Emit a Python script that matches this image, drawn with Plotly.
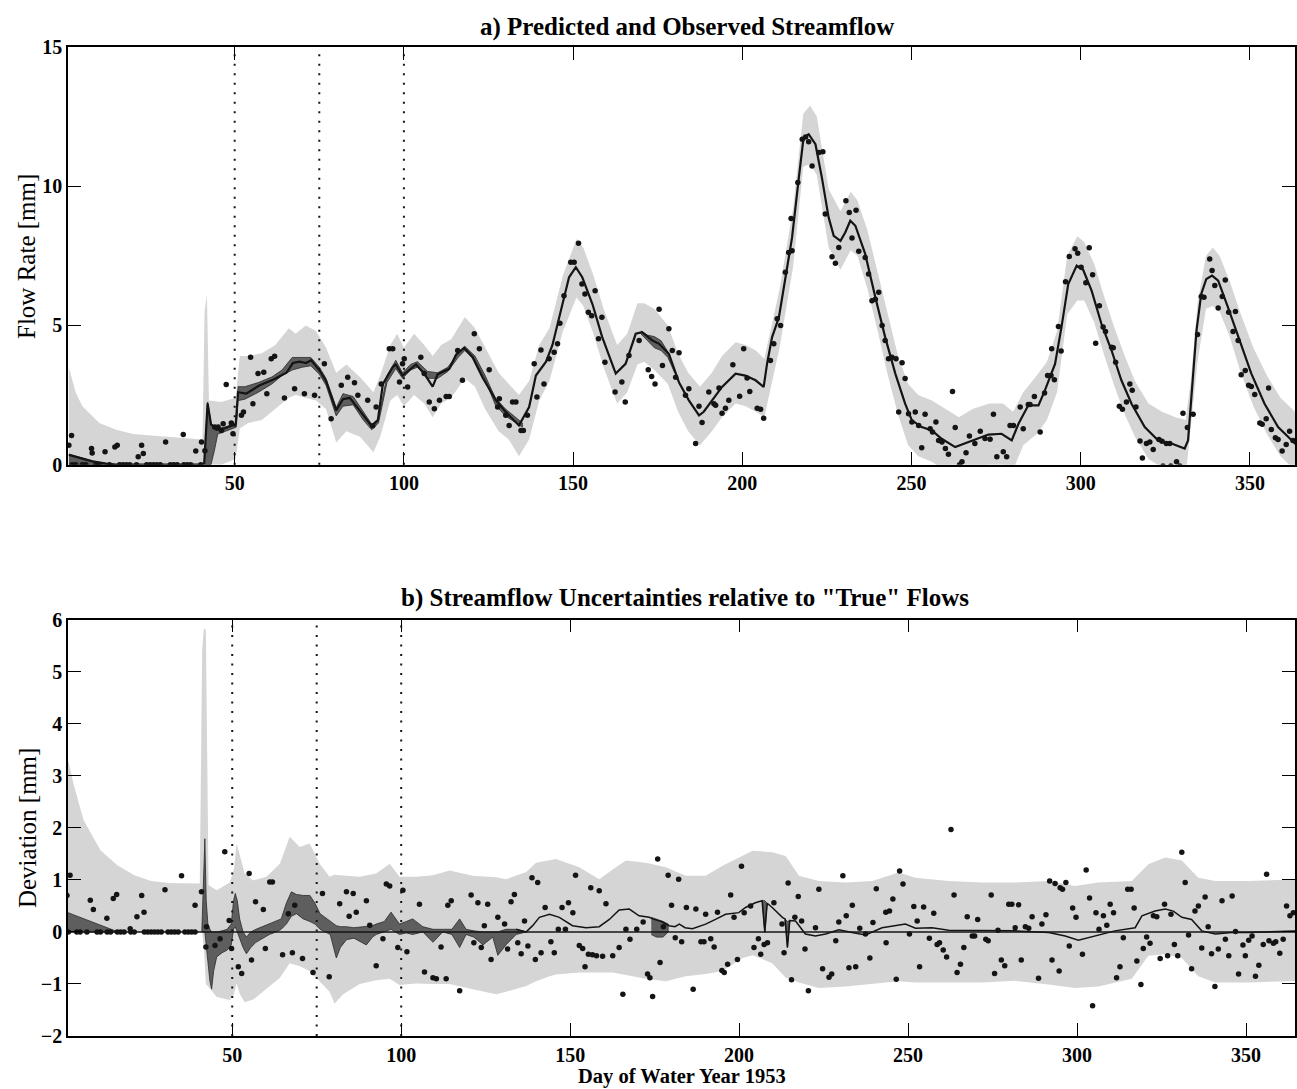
import plotly.graph_objects as go

# ---------------- Panel a: predicted & observed streamflow ----------------
# predicted flow line (day, mm)
pred_a = [(1, 0.35), (4, 0.25), (8, 0.12), (12, 0.04), (15, 0.0), (20, 0.0), (30, 0.0), (40, 0.0),
          (41, 0.05), (42, 2.2), (43, 1.45), (44.6, 1.25), (47, 1.3), (49.5, 1.4), (50.3, 1.45),
          (51, 2.6), (53.4, 2.55), (57.4, 2.85), (61.3, 3.05), (65.3, 3.3), (67.2, 3.65), (69.2, 3.7),
          (71.1, 3.65), (72.6, 3.75), (75.1, 3.38), (77, 3.0), (80, 1.95), (82, 2.35), (84, 2.4),
          (86.9, 1.95), (90.5, 1.38), (92.3, 1.6), (93.8, 2.9), (96.7, 3.5), (97.6, 3.6), (99.6, 3.2),
          (103.6, 3.6), (106, 3.27), (108.5, 2.8), (110, 3.25), (113.4, 3.44), (115.4, 3.95),
          (117.8, 4.2), (120.3, 3.86), (123.2, 3.14), (127.2, 2.31), (130.1, 1.89), (134, 1.41),
          (137, 2.07), (139, 3.2), (142, 3.7), (143.9, 4.3), (146.8, 5.77), (148.8, 6.73),
          (150.8, 7.09), (152.7, 6.73), (155.7, 5.77), (158.6, 4.58), (162.6, 3.27), (165.5, 3.62),
          (168.5, 4.7), (170.4, 4.76), (173.4, 4.46), (175.4, 4.34), (178.3, 3.98), (181.3, 2.95),
          (184.2, 2.31), (187.2, 1.77), (188.6, 1.9), (191.1, 2.31), (194, 2.79), (198, 3.27),
          (200.9, 3.2), (203.9, 3.03), (206.3, 2.79), (207.3, 3.62), (208.8, 4.58), (210.8, 5.29),
          (212.7, 6.73), (214.7, 8.16), (216.7, 10.31), (218.1, 11.75), (219.6, 11.87), (221.6, 11.51),
          (223.5, 10.31), (225.5, 8.88), (227, 8.22), (229, 8.04), (230.4, 8.34), (231.9, 8.76),
          (233.4, 8.58), (236.3, 7.57), (239.3, 6.01), (242.2, 4.58), (245.2, 3.27), (248.1, 2.19),
          (250.1, 1.59), (253, 1.35), (256, 1.23), (258.9, 0.93), (262.9, 0.63), (265.8, 0.76),
          (269.8, 0.93), (272.7, 1.08), (276.6, 1.11), (279.6, 0.87), (281.6, 1.47), (284.5, 2.13),
          (287.5, 2.13), (289.4, 2.67), (292.4, 3.62), (294.3, 4.94), (296.3, 6.49), (298.8, 7.15),
          (300.7, 7.0), (303.2, 6.25), (306.1, 5.06), (309.1, 4.1), (312, 3.03), (315, 2.19),
          (318.9, 1.35), (322.9, 0.87), (326.8, 0.76), (330.7, 0.58), (331.7, 0.87), (332.7, 2.55),
          (334.2, 4.82), (335.6, 6.13), (337.1, 6.67), (338.8, 6.79), (340.6, 6.61), (343.5, 5.65),
          (346.5, 4.58), (350.4, 3.27), (354.3, 2.19), (358.3, 1.35), (363.3, 0.76), (365, 0.6)]

# light uncertainty band (day, upper, lower)
band_a = [(1, 3.5, 0), (3, 2.6, 0), (5, 2.1, 0), (10, 1.5, 0), (15, 1.25, 0), (20, 1.1, 0),
          (30, 1.0, 0), (40.5, 0.9, 0), (41.1, 5.5, 0), (41.8, 6.1, 0), (42.4, 2.3, 0), (46, 2.25, 0),
          (50.3, 2.4, 0.2), (51.5, 3.9, 1.3), (54, 3.9, 1.5), (58, 4.0, 1.6), (62, 4.3, 2.0),
          (66, 4.9, 2.4), (68, 4.7, 2.5), (71, 5.0, 2.4), (74, 4.8, 2.3), (77, 4.2, 2.0), (80, 3.3, 0.8),
          (83, 3.6, 1.2), (87, 3.15, 1.0), (91, 2.6, 0.45), (93, 3.2, 1.0), (96, 4.3, 2.3),
          (98, 4.7, 2.5), (100, 4.2, 2.1), (103, 4.7, 2.5), (106, 4.3, 2.2), (108.5, 3.9, 1.7),
          (111, 4.3, 2.2), (114, 4.5, 2.4), (118, 5.3, 3.1), (121, 4.9, 2.8), (124, 4.2, 2.0),
          (128, 3.3, 1.2), (131, 2.9, 0.9), (134, 2.5, 0.3), (137, 3.0, 0.9), (140, 4.3, 2.3),
          (143, 4.9, 3.0), (147, 6.8, 4.8), (151, 8.1, 6.0), (153, 7.8, 5.7), (156, 6.8, 4.7),
          (159, 5.6, 3.5), (163, 4.3, 2.2), (166, 4.7, 2.6), (169, 5.8, 3.6), (171, 5.8, 3.7),
          (174, 5.6, 3.4), (178, 5.0, 2.9), (181, 4.0, 1.9), (184, 3.3, 1.2), (187.5, 2.8, 0.7),
          (191, 3.3, 1.2), (194, 3.9, 1.7), (198, 4.4, 2.2), (201, 4.3, 2.1), (204, 4.1, 1.9),
          (206.5, 3.8, 1.7), (208, 4.6, 2.5), (211, 6.3, 4.2), (215, 9.2, 7.1), (218, 12.6, 10.7),
          (220, 12.9, 10.8), (222, 12.5, 10.4), (225.5, 9.9, 7.8), (229, 9.1, 7.0), (232, 9.8, 7.7),
          (234, 9.5, 7.5), (237, 8.4, 6.3), (240, 6.9, 4.8), (243, 5.3, 3.2), (246, 3.9, 1.8),
          (249, 2.9, 0.7), (252, 2.5, 0.3), (256, 2.3, 0.1), (260, 2.0, -0.2), (264, 1.7, -0.4),
          (268, 2.0, -0.2), (273, 2.2, 0.0), (277, 2.2, 0.0), (280, 1.9, -0.2), (283, 2.6, 0.7),
          (287, 3.2, 1.1), (290, 3.7, 1.6), (293, 4.8, 2.6), (296, 7.5, 5.4), (299, 8.2, 5.9),
          (301, 8.0, 5.9), (304, 7.2, 5.1), (307, 6.0, 3.9), (310, 4.9, 2.8), (313, 3.9, 1.8),
          (316, 3.0, 1.0), (320, 2.2, 0.2), (324, 1.9, -0.1), (328, 1.7, -0.3), (331, 1.6, -0.4),
          (332.5, 3.0, 1.2), (334.5, 5.8, 3.7), (337, 7.5, 5.6), (339, 7.8, 5.7), (341, 7.5, 5.5),
          (344, 6.6, 4.6), (347, 5.5, 3.4), (351, 4.2, 2.1), (355, 3.2, 1.1), (359, 2.4, 0.3),
          (365, 1.7, -0.4)]

# dark band segments (day, upper, lower)
dark_a1 = [(1, 0.38, 0), (4, 0.27, 0), (8, 0.13, 0), (12, 0.04, 0), (15, 0.0, 0)]
dark_a2 = [(41, 0.05, 0.0), (42, 2.25, 0.0), (43, 1.5, 0.0), (44, 1.35, 0.5), (45, 1.3, 1.1),
           (47, 1.35, 1.2), (49.5, 1.45, 1.3), (50.5, 1.5, 1.35), (51, 2.8, 2.3), (53, 2.8, 2.35),
           (57, 2.95, 2.6), (61, 3.15, 2.9), (64, 3.4, 3.2), (67, 3.85, 3.4), (70, 3.85, 3.5),
           (72.5, 3.85, 3.55), (75, 3.5, 3.25), (77, 3.1, 2.85), (80, 2.05, 1.75), (82, 2.55, 2.1),
           (85, 2.45, 2.15), (88, 1.9, 1.6), (90.5, 1.45, 1.25), (92.5, 1.65, 1.5), (95, 3.2, 2.95),
           (97.6, 3.75, 3.45), (99.6, 3.3, 3.1), (102, 3.6, 3.4), (104, 3.7, 3.5), (107, 3.35, 3.1),
           (110, 3.3, 3.1), (113, 3.5, 3.35), (116, 4.0, 3.85), (118, 4.25, 4.1), (121, 3.9, 3.75),
           (124, 3.2, 3.05), (127, 2.4, 2.15), (130, 2.0, 1.75), (133, 1.7, 1.5), (135, 1.5, 1.35)]
dark_a3 = [(170, 4.8, 4.7), (172, 4.65, 4.45), (174, 4.6, 4.2), (176, 4.45, 4.1), (178, 4.05, 3.85),
           (180, 3.4, 3.3)]

# observed flows (day, mm)
obs_a = [(2, 0), (3, 0), (5, 0), (6, 0), (9, 0), (10, 0), (13, 0), (16, 0), (17, 0), (18, 0), (19, 0),
         (21, 0), (24, 0), (25, 0), (26, 0), (27, 0), (28, 0), (31, 0), (32, 0), (33, 0), (35, 0),
         (36, 0), (37, 0), (40, 0),
         (1, 0.7), (1.8, 1.05), (7.7, 0.58), (7.9, 0.42), (11.7, 0.46), (14.6, 0.63), (15.3, 0.7),
         (21.5, 0.28), (22.5, 0.7), (23, 0.4), (29.6, 0.81), (34.8, 1.08), (38.5, 0.49), (40.2, 0.81),
         (41.2, 0.5), (44.1, 1.35), (45.1, 1.35), (46.1, 1.23), (46.6, 1.47), (47.5, 2.88), (49, 1.5),
         (49.5, 1.11), (52, 1.77), (52.6, 1.89), (54.7, 3.86), (55.4, 2.19), (56.9, 3.27), (58.6, 3.32),
         (59.5, 2.55), (60.8, 3.8), (61.8, 3.89), (64.7, 2.39), (67.7, 2.73), (70.6, 2.55), (73.6, 2.49),
         (76.5, 3.62), (78.5, 1.65), (81.5, 2.85), (83.4, 3.14), (85.4, 2.94), (86.4, 2.49), (89.3, 2.31),
         (90.8, 1.4), (91.8, 2.07), (93.3, 2.9), (95.7, 4.16), (96.7, 4.16), (98.7, 2.97), (99.6, 3.62),
         (100.1, 3.8), (101.1, 2.79), (105, 3.86), (106, 3.27), (107.5, 2.25), (109, 2.01), (110.5, 2.31),
         (112.5, 2.45), (113.4, 2.45), (115.9, 4.1), (117.3, 3.03), (120.8, 4.7), (122.3, 4.16),
         (125.2, 3.41), (127.7, 2.07), (128.2, 2.37), (130.1, 1.77), (131.1, 1.41), (132.1, 2.25),
         (133.1, 2.25), (134.6, 1.23), (135.3, 1.23), (136.5, 1.77), (138.5, 3.62), (139.3, 2.43),
         (140.5, 4.12), (141.4, 2.9), (142.9, 3.8), (144.4, 4.04), (145.4, 4.34), (146.1, 5.08),
         (147.3, 6.07), (149.3, 7.27), (150.3, 7.27), (151.6, 7.95), (152.6, 6.49), (153.5, 6.13),
         (154.5, 5.47), (155.5, 5.35), (156.5, 6.25), (157.5, 4.52), (158.5, 5.29), (159.4, 3.68),
         (162.4, 2.61), (164.4, 2.97), (165.4, 2.25), (166.5, 3.92), (169.5, 4.46), (172.2, 3.41),
         (173.2, 3.17), (174.2, 2.9), (175.4, 5.58), (176.4, 3.56), (178.3, 4.88), (179.3, 4.1),
         (180.3, 3.14), (181.3, 4.02), (183.2, 2.49), (184.2, 2.73), (186.2, 0.76), (187.2, 2.1),
         (188.1, 1.51), (190.1, 2.61), (191.6, 2.19), (192.1, 2.13), (193.1, 2.75), (194, 1.85),
         (195, 2.03), (196, 2.31), (197.2, 3.59), (199.2, 2.46), (200.4, 4.16), (201.4, 3.11),
         (202.2, 2.63), (204.4, 2.03), (205.4, 1.99), (206.3, 1.67), (208.3, 3.74), (209.3, 4.34),
         (210.3, 5.24), (211.3, 5.0), (212.7, 6.91), (213.7, 7.62), (214.4, 8.84), (214.7, 7.68),
         (216.4, 10.13), (217.7, 11.69), (218.7, 11.77), (219.6, 11.6), (220.6, 10.73), (222.6, 11.21),
         (223.8, 11.24), (224.5, 9.0), (226.5, 7.47), (227.5, 7.23), (228.5, 7.8), (230.6, 9.48),
         (231.6, 9.06), (232.4, 8.14), (233.6, 9.14), (234.4, 7.66), (236.3, 7.44), (237.3, 6.85),
         (238.3, 5.89), (239.3, 5.94), (240.3, 6.19), (241.3, 5.0), (242.2, 4.46), (243.2, 3.8),
         (244.2, 3.86), (245.4, 3.8), (246.2, 1.89), (247.2, 3.66), (248.1, 3.09), (249.1, 1.83),
         (250.1, 1.53), (251.1, 1.89), (252.1, 1.41), (253, 0.61), (254, 1.81), (255.5, 1.29),
         (256.2, 1.17), (257.2, 1.53), (258, 0.87), (259, 0.81), (260, 0.58), (260.9, 0.37),
         (262.1, 2.63), (262.9, 1.33), (264.2, 0.0), (264.9, 0.1), (266.1, 0.43), (267.1, 1.03),
         (268.7, 0.76), (270.3, 1.2), (271.7, 0.94), (273.2, 0.91), (274.2, 1.81), (275.2, 0.28),
         (277.1, 0.46), (278.1, 0.28), (279.1, 1.41), (280.1, 1.41), (282.1, 2.07), (283, 1.29),
         (284.5, 2.16), (285, 2.16), (286.3, 2.45), (288, 1.17), (289.3, 2.57), (290.2, 3.2),
         (291.2, 3.2), (291.4, 4.16), (292.2, 3.05), (293.4, 4.96), (294.2, 4.08), (295.5, 6.57),
         (296.6, 7.48), (298.3, 7.75), (299.1, 7.59), (300.1, 7.09), (301.5, 6.53), (302.5, 7.79),
         (303.5, 6.82), (304.4, 4.36), (305.5, 5.71), (306.6, 4.94), (307.3, 4.78), (309.1, 4.22),
         (309.6, 4.2), (310.3, 3.68), (311.4, 2.1), (312.3, 1.99), (313.5, 2.25), (314.5, 2.9),
         (315.2, 2.67), (316.3, 2.07), (317.5, 0.85), (318.2, 0.24), (319.4, 0.76), (320.4, 0.81),
         (321.4, 0.54), (323.1, 0.9), (324, 0.84), (324.3, -0.05), (325.3, 0.76), (326.3, 0.76),
         (326.6, -0.05), (328.3, 0.1), (329.3, -0.05), (330.2, 1.85), (331.5, 1.33), (333.2, 1.81),
         (334.5, 4.67), (335.6, 6.04), (336.4, 6.01), (338.1, 7.39), (338.8, 6.97), (339.6, 6.43),
         (340.6, 5.63), (341.8, 6.04), (342.7, 6.63), (343.7, 5.47), (345, 4.78), (345.7, 5.5),
         (346.5, 4.46), (347.4, 3.23), (348.6, 3.38), (349.6, 2.85), (350.4, 2.81), (351.4, 2.52),
         (352.9, 1.5), (353.6, 1.45), (354.8, 1.65), (355.5, 2.75), (356.3, 1.26), (357.5, 0.97),
         (358.3, 0.9), (359.5, 0.49), (360.7, 0.72), (361.7, 1.2), (362.7, 0.87)]

# ---------------- Panel b: deviations relative to "true" flows ----------------
band_b = [(1, 3.43, 0), (3, 2.85, 0), (6, 2.15, 0), (11, 1.57, 0), (16, 1.28, 0), (21, 1.09, 0),
          (26, 0.98, 0), (31, 0.94, 0), (40.4, 0.93, 0), (41.1, 5.4, 0), (41.6, 5.83, -0.3),
          (42.2, 5.8, -1.0), (43.0, 0.9, -1.06), (45.4, 0.8, -1.25), (49.3, 0.95, -1.31),
          (50.5, 1.2, -1.2), (51.3, 1.7, -0.99), (52.3, 1.44, -1.2), (53.7, 1.12, -1.35),
          (56.2, 0.99, -1.3), (60.1, 1.06, -1.1), (64.1, 1.31, -0.88), (67, 1.83, -0.6),
          (70, 1.63, -0.66), (72.9, 1.7, -0.75), (75.9, 1.31, -0.95), (78.8, 1.06, -1.15),
          (80.3, 1.1, -1.38), (82.8, 1.09, -1.2), (87.7, 1.06, -1.0), (92.6, 1.12, -0.93),
          (96.6, 1.31, -0.9), (99.5, 1.06, -1.02), (104.4, 1.06, -0.99), (109.4, 1.09, -1.0),
          (114.3, 1.18, -1.0), (121.2, 1.08, -1.1), (128.1, 1.05, -1.2), (131, 1.01, -1.15),
          (137, 1.15, -1.04), (139.9, 1.33, -0.95), (143.9, 1.38, -0.85), (145.8, 1.4, -0.82),
          (152.7, 1.24, -0.78), (158.6, 1.01, -0.78), (162.6, 1.2, -0.78), (166.5, 1.37, -0.83),
          (172.4, 1.33, -0.9), (178.3, 1.24, -0.95), (184.2, 1.08, -0.85), (190.1, 1.08, -0.81),
          (195.1, 1.27, -0.75), (201, 1.46, -0.5), (204, 1.56, -0.45), (209.8, 1.53, -0.6),
          (213.8, 1.46, -0.88), (217.7, 1.08, -0.97), (223.6, 0.98, -1.08), (231.5, 0.95, -1.05),
          (239.4, 0.98, -1.0), (247.2, 1.14, -0.95), (252.2, 1.04, -0.97), (262, 0.98, -0.97),
          (271.9, 0.95, -0.97), (281.7, 0.95, -0.94), (291.6, 0.98, -1.01), (299.4, 0.88, -1.08),
          (306.3, 0.95, -1.05), (316.2, 0.98, -0.9), (321.1, 1.3, -0.46), (326.1, 1.43, -0.43),
          (331, 1.37, -0.5), (335.9, 1.04, -0.85), (340.9, 0.98, -0.97), (350.7, 0.98, -0.97),
          (365, 1.01, -0.94)]

dark_b1 = [(1, 0.38, 0), (6, 0.26, 0), (11, 0.13, 0), (15, 0.03, 0), (18, 0.0, 0)]
dark_b2 = [(41, 0.0, 0.0), (41.6, 1.0, 0.0), (41.9, 1.79, 0.0), (42.3, 0.6, -0.3), (42.8, 0.15, -0.6),
           (43.4, 0.05, -0.95), (43.9, 0.0, -1.1), (44.5, 0.0, -0.75), (45.4, 0.0, -0.48),
           (47, 0.02, -0.4), (48.5, 0.05, -0.35), (49.7, 0.15, -0.25), (50.4, 0.6, 0.05),
           (50.9, 0.74, 0.1), (51.5, 0.6, 0.0), (52.2, 0.25, -0.1), (53.2, 0.0, -0.3),
           (54.2, -0.1, -0.42), (55.5, 0.0, -0.3), (57, 0.05, -0.2), (59, 0.1, -0.12), (61, 0.15, -0.05),
           (63, 0.2, 0.0), (64.5, 0.25, 0.05), (66, 0.55, 0.15), (67.5, 0.77, 0.3), (69, 0.72, 0.35),
           (71, 0.7, 0.25), (73, 0.7, 0.2), (74.5, 0.55, 0.15), (76, 0.35, 0.05), (77.5, 0.28, 0.0),
           (79, 0.2, -0.05), (80.8, 0.12, -0.5), (82, 0.1, -0.3), (83.8, 0.1, -0.15), (86, 0.08, -0.12),
           (89.7, 0.1, -0.25), (91.5, 0.12, -0.1), (92.6, 0.15, -0.05), (95, 0.2, 0.0), (97, 0.38, 0.05),
           (99.5, 0.15, -0.05), (101.5, 0.2, -0.02), (103.4, 0.25, -0.05), (106.4, 0.1, 0.0),
           (109.4, 0.05, -0.2), (112.3, 0.05, 0.0), (115, 0.05, -0.05), (117.3, 0.25, -0.3),
           (119.2, 0.05, -0.05), (121.5, 0.02, -0.1), (124.2, 0.0, -0.25), (127.1, 0.0, -0.1),
           (128.6, 0.0, -0.45), (131, 0.05, -0.25), (134, 0.05, -0.05), (137, 0.0, 0.0)]
dark_b3 = [(174, 0.28, -0.05), (175.5, 0.25, -0.1), (177.5, 0.2, -0.1), (179, 0.15, 0.0)]
dark_b4 = [(206.9, 0.6, 0.6), (207.6, 0.6, -0.02), (208.3, 0.55, 0.55)]
dark_b5 = [(213.6, 0.25, 0.25), (214.3, 0.2, -0.3), (215.0, 0.22, 0.22)]

dev_b = [(134, 0.05), (137, 0.0), (138.9, 0.12), (140.9, 0.28), (143.9, 0.34), (146.8, 0.28),
         (150.7, 0.12), (154.7, 0.08), (158.6, 0.1), (161.6, 0.24), (164.5, 0.42), (167.5, 0.44),
         (170.4, 0.31), (173.4, 0.28), (174.4, 0.25), (177, 0.2), (179.3, 0.12), (181, 0.1),
         (182.3, 0.15), (184, 0.08), (186.2, 0.06), (190.1, 0.15), (193, 0.24), (196, 0.34),
         (199.9, 0.37), (201.9, 0.47), (204.8, 0.56), (206.8, 0.6), (207.6, 0.0), (208.3, 0.55),
         (209.8, 0.47), (212.8, 0.28), (213.6, 0.25), (214.3, -0.3), (215.0, 0.22), (216.7, 0.21),
         (219.6, -0.04), (222.6, -0.08), (225.6, -0.04), (229.5, 0.04), (233.4, -0.01), (237.4, -0.06),
         (242.3, 0.08), (249.2, 0.15), (252.2, 0.07), (257.1, 0.08), (262, 0.03), (271.9, 0.02),
         (281.7, 0.02), (291.6, -0.01), (296.5, -0.08), (300.4, -0.16), (305.3, -0.08), (311.2, 0.02),
         (317.2, 0.08), (319.2, 0.31), (323.1, 0.4), (326.1, 0.44), (328.5, 0.4), (331, 0.28),
         (333.9, 0.24), (336.9, 0.02), (340.9, -0.04), (345.8, -0.01), (350.7, -0.01), (365, 0.02)]

obs_b = [(1.5, 0), (4, 0), (5, 0), (7, 0), (10, 0), (11, 0), (13, 0), (14, 0), (16, 0), (17, 0),
         (18, 0), (20, 0), (21, 0), (24, 0), (25, 0), (26, 0), (27, 0), (28, 0), (29, 0), (31, 0),
         (32, 0), (33, 0), (34, 0), (36, 0), (37, 0), (38, 0), (39, 0),
         (1.1, 0.7), (2.0, 1.09), (8.0, 0.61), (8.9, 0.43), (12.9, 0.26), (14.8, 0.64), (15.8, 0.72),
         (19.8, 0.06), (21.8, 0.29), (23.2, 0.7), (23.9, 0.38), (30.1, 0.81), (35, 1.08), (39, 0.51),
         (40.9, 0.77), (42.4, 0.1), (42.2, -0.29), (44.9, -0.26), (46.4, -0.13), (47.8, 1.54),
         (49.1, 0.22), (49.8, -0.32), (51.8, -0.67), (52.8, -0.8), (55, 1.12), (55.7, -0.54),
         (56.9, 0.58), (59.2, 0.43), (59.8, -0.32), (61.1, 0.96), (61.9, 0.96), (64.9, -0.44),
         (66.6, 0.35), (67.8, -0.4), (68.5, 0.51), (70.8, -0.51), (73.9, -0.78), (76.7, 0.74),
         (78.7, -0.86), (81.8, 0.54), (83.8, 0.77), (84.6, 0.3), (85.8, 0.74), (86.7, 0.38),
         (89.7, 0.6), (90.7, 0.13), (92.6, -0.65), (94.6, -0.13), (95.6, 0.92), (96.6, 0.88),
         (99, -0.3), (100.5, 0.8), (101.7, -0.38), (105.4, 0.53), (106.9, -0.77), (109.4, -0.88),
         (110.4, -0.9), (111.8, -0.29), (113.3, -0.9), (113.8, 0.51), (114.8, 0.6), (117.3, -1.13),
         (120.7, 0.71), (121.5, -0.21), (122.7, 0.56), (123.7, -0.3), (124.6, 0.12), (125.6, 0.53),
         (126.6, -0.53), (128.6, 0.28), (130.6, 0.15), (131.5, -0.33), (132.5, 0.58), (133.5, 0.72),
         (134.5, -0.21), (135.5, -0.42), (136.5, 0.21), (137.5, -0.27), (138.7, 1.04), (139.7, -0.53),
         (140.4, 0.95), (141.4, -0.4), (142.6, 0.47), (144.3, -0.19), (145.3, -0.4), (146.5, 0.05),
         (147.6, 0.47), (148.6, 0.05), (149.5, 0.56), (150.8, 0.37), (151.6, 1.09), (152.7, -0.26),
         (153.7, -0.32), (154.4, -0.67), (155.4, -0.43), (156.6, -0.44), (157.8, -0.46), (159.6, -0.47),
         (156.1, 0.85), (158.6, 0.79), (160.6, 0.54), (162.6, -0.46), (164.5, -0.3), (165.6, -1.2),
         (166.5, 0.05), (167.7, -0.14), (169.7, 0.05), (171.6, 0.19), (172.9, -0.81), (173.6, -0.88),
         (174.4, -1.24), (175.9, 1.4), (176.6, -0.59), (177.6, 0.1), (179, 1.09), (180, 0.51),
         (181.1, -0.11), (182.1, 1.01), (183, -0.19), (184.4, 0.47), (186.4, -1.1), (187.2, 0.44),
         (188.7, -0.19), (189.6, -0.19), (190.1, 0.34), (191.6, -0.13), (192.6, -0.29), (193.6, 0.38),
         (194.9, -0.74), (195.6, -0.78), (196.6, -0.62), (197.5, 0.71), (198.5, 0.28), (199.5, -0.53),
         (200.7, 1.26), (201.5, 0.37), (203.4, 0.5), (204.4, -0.3), (205.7, -0.13), (206.4, -0.43),
         (207.4, -0.24), (208.4, -0.21), (210.3, 0.56), (212.7, 0.15), (213.3, -0.4), (214.5, 0.94),
         (215.5, -0.92), (216.5, 0.28), (217.5, 0.68), (218.5, 0.21), (219.5, -0.33), (220.5, -1.13),
         (222.6, 0.08), (223.6, 0.82), (224.7, -0.71), (226.6, -0.87), (227.4, -0.81), (228.6, -0.17),
         (229.5, 0.19), (230.7, 1.08), (231.7, 0.31), (232.5, -0.69), (233.5, 0.51), (234.5, -0.67),
         (235.7, 0.07), (237.4, -0.04), (238.7, -0.5), (239.6, 0.18), (240.6, 0.83), (243.4, 0.38),
         (243.5, -0.21), (244.5, 0.4), (245.5, 0.63), (246.5, -0.91), (247.5, 1.17), (248.5, 0.92),
         (250.4, -0.04), (251.7, 0.49), (252.7, 0.21), (253.4, -0.67), (254.6, 0.48), (256.3, -0.12),
         (257.6, 0.36), (258.6, -0.24), (259.3, -0.21), (260.4, -0.35), (261.4, -0.48), (262.7, 1.97),
         (263.6, 0.71), (264.5, -0.78), (265.5, -0.62), (266.5, -0.3), (267.5, 0.29), (269, -0.08),
         (269.7, -0.08), (270.6, 0.24), (273, -0.14), (273.7, -0.17), (274.6, 0.71), (275.6, -0.8),
         (276.6, 0.03), (277.6, -0.54), (278.6, -0.65), (279.8, 0.53), (280.7, 0.53), (281.7, 0.08),
         (282.7, 0.52), (283.5, -0.54), (284.7, 0.1), (285.7, 0.07), (286.7, 0.29), (288.6, -0.89),
         (289.6, 0.15), (290.8, 0.33), (291.9, 0.98), (292.6, -0.54), (293.5, 0.93), (294.7, -0.75),
         (295, 0.85), (295.7, 0.82), (296.7, 0.95), (297.7, -0.27), (298.7, 0.46), (299.7, 0.28),
         (301.6, -0.43), (302.7, 1.19), (303.7, 0.65), (304.6, -1.42), (305.6, 0.37), (306.5, 0.05),
         (307.8, 0.31), (308.8, 0.13), (309.8, 0.53), (310.8, 0.37), (311.7, -0.88), (312.7, -0.67),
         (313.7, -0.11), (315, 0.82), (316, 0.82), (316.9, 0.46), (317.7, -0.56), (318.9, -1.01),
         (319.6, -0.32), (320.6, -0.1), (321.6, -0.22), (322.6, 0.31), (323.6, 0.29), (324.6, -0.51),
         (325.9, 0.53), (326.8, -0.46), (327.8, 0.34), (328.8, -0.24), (329.8, -0.46), (331, 1.53),
         (332, 0.95), (333, -0.06), (333.9, -0.71), (334.9, 0.4), (335.9, 0.5), (336.9, -0.31),
         (337.9, 0.67), (338.8, 0.1), (339.8, -0.42), (340.8, -1.05), (341.8, -0.33), (342.9, 0.6),
         (343.9, -0.14), (344.9, -0.46), (345.9, 0.69), (346.9, 0.01), (347.8, -0.81), (349.1, -0.25),
         (349.8, -0.46), (350.8, -0.16), (351.8, -0.08), (352.8, -0.85), (353.8, -0.64), (355.1, -0.24),
         (356.1, 1.11), (356.8, -0.17), (358.1, -0.22), (358.8, -0.19), (360, -0.41), (361, -0.14),
         (362, 0.5), (363, 0.31), (364, 0.37)]

# reference days and axis ticks
marker_days = [50, 75, 100]
zero_line_days = [0, 366]
x_ticks = [50, 100, 150, 200, 250, 300, 350]
ya_ticks = [0, 5, 10, 15]
yb_ticks = [-2, -1, 0, 1, 2, 3, 4, 5, 6]

LIGHT = "#d5d5d5"
DARK = "#5e5e5e"
INK = "#141414"
FONT = "Liberation Serif"


def polygon(triples):
    d = [t[0] for t in triples]
    hi = [t[1] for t in triples]
    lo = [t[2] for t in triples]
    return d + d[::-1], hi + lo[::-1]


fig = go.Figure()


def add_band(triples, color, xa, ya, outline=None):
    px, py = polygon(triples)
    fig.add_trace(go.Scatter(x=px, y=py, fill="toself", fillcolor=color, mode="lines",
                             line=dict(width=0.8 if outline else 0, color=outline or color),
                             xaxis=xa, yaxis=ya, hoverinfo="skip"))


# panel a
add_band(band_a, LIGHT, "x", "y")
for seg in (dark_a1, dark_a2, dark_a3):
    add_band(seg, DARK, "x", "y", outline="#2a2a2a")
fig.add_trace(go.Scatter(x=[p[0] for p in pred_a], y=[p[1] for p in pred_a], mode="lines",
                         line=dict(color=INK, width=2.2), xaxis="x", yaxis="y"))
fig.add_trace(go.Scatter(x=[p[0] for p in obs_a], y=[p[1] for p in obs_a], mode="markers",
                         marker=dict(color=INK, size=5.5), xaxis="x", yaxis="y"))

# panel b
add_band(band_b, LIGHT, "x2", "y2")
for seg in (dark_b1, dark_b2, dark_b3, dark_b4, dark_b5):
    add_band(seg, DARK, "x2", "y2", outline="#2a2a2a")
fig.add_trace(go.Scatter(x=zero_line_days, y=[0, 0], mode="lines",
                         line=dict(color=INK, width=1.5), xaxis="x2", yaxis="y2"))
fig.add_trace(go.Scatter(x=[p[0] for p in dev_b], y=[p[1] for p in dev_b], mode="lines",
                         line=dict(color=INK, width=1.5), xaxis="x2", yaxis="y2"))
fig.add_trace(go.Scatter(x=[p[0] for p in obs_b], y=[p[1] for p in obs_b], mode="markers",
                         marker=dict(color=INK, size=5.5), xaxis="x2", yaxis="y2"))

# dotted reference lines
shapes = []
for xref, yref in (("x", "y domain"), ("x2", "y2 domain")):
    for d in marker_days:
        shapes.append(dict(type="line", xref=xref, yref=yref, x0=d, x1=d, y0=0, y1=1,
                           line=dict(color=INK, width=2, dash="2px,7.5px"), layer="above"))

tickfont = dict(family=FONT, size=20, color="black", weight="bold")
common_axis = dict(showline=True, linecolor="black", linewidth=1.5, mirror="ticks",
                   ticks="inside", ticklen=13, tickwidth=1.3, tickcolor="black",
                   showgrid=False, zeroline=False, tickfont=tickfont)

fig.update_layout(
    width=1297, height=1089,
    margin=dict(l=68, r=0, t=47, b=53),
    paper_bgcolor="white", plot_bgcolor="white",
    showlegend=False,
    shapes=shapes,
    xaxis=dict(domain=[0, 1], anchor="y", range=[0.75, 363.3], tickvals=x_ticks,
               ticklabelstandoff=0, **common_axis),
    yaxis=dict(domain=[0.5777, 1], anchor="x", range=[0, 15], tickvals=ya_ticks, **common_axis),
    xaxis2=dict(domain=[0, 1], anchor="y2", range=[1.4, 364.5], tickvals=x_ticks,
                ticklabelstandoff=0, **common_axis),
    yaxis2=dict(domain=[0, 0.421], anchor="x2", range=[-2, 6], tickvals=yb_ticks, **common_axis),
    annotations=[
        dict(text="a) Predicted and Observed Streamflow", xref="paper", yref="paper",
             x=0.5045, y=1.0202, showarrow=False, xanchor="center", yanchor="middle",
             font=dict(family=FONT, size=25, color="black", weight="bold")),
        dict(text='b) Streamflow Uncertainties relative to "True" Flows', xref="paper", yref="paper",
             x=0.503, y=0.4429, showarrow=False, xanchor="center", yanchor="middle",
             font=dict(family=FONT, size=25, color="black", weight="bold")),
        dict(text="Flow Rate [mm]", xref="paper", yref="paper", x=-0.0334, y=0.7877,
             showarrow=False, textangle=-90, xanchor="center", yanchor="middle",
             font=dict(family=FONT, size=25, color="black")),
        dict(text="Deviation [mm]", xref="paper", yref="paper", x=-0.0334, y=0.2103,
             showarrow=False, textangle=-90, xanchor="center", yanchor="middle",
             font=dict(family=FONT, size=25, color="black")),
        dict(text="Day of Water Year 1953", xref="paper", yref="paper", x=0.5, y=-0.0536,
             showarrow=False, xanchor="center", yanchor="bottom", borderpad=0,
             font=dict(family=FONT, size=20.5, color="black", weight="bold")),
    ],
)

fig.write_html("out.html", config={"displayModeBar": False},
               post_script="document.body.style.margin='0';")
